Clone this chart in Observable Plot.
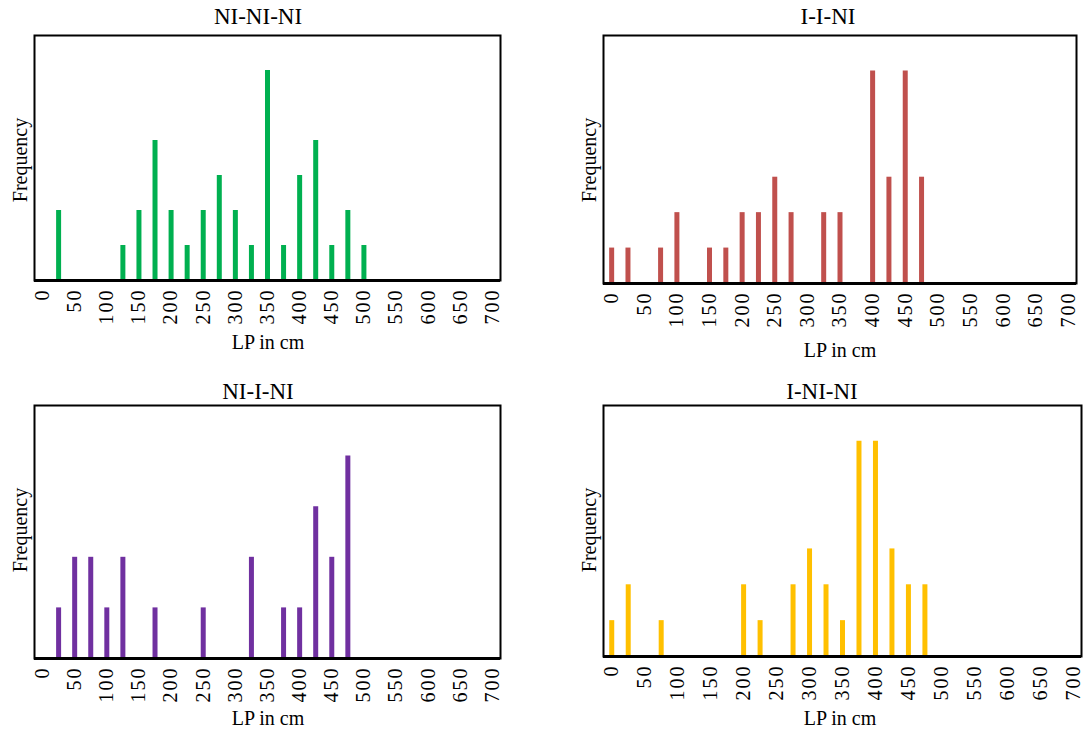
<!DOCTYPE html>
<html>
<head>
<meta charset="utf-8">
<script src="https://cdn.jsdelivr.net/npm/d3@7"></script>
<script src="https://cdn.jsdelivr.net/npm/@observablehq/plot@0.6"></script>
<style>
  html, body { margin: 0; padding: 0; background: #fff; }
  #chart { position: relative; width: 1087px; height: 732px; font-family: "Liberation Serif", "DejaVu Serif", "Times New Roman", serif; color: #000; }
  .title { position: absolute; font-size: 23px; transform: translate(-50%, -50%); white-space: nowrap; }
  .xlab { position: absolute; font-size: 20px; transform: translate(-50%, -50%); white-space: nowrap; }
  .ylab { position: absolute; font-size: 20px; transform: translate(-50%, -50%) rotate(-90deg); white-space: nowrap; }
  svg.panel text { font-size: 20px; letter-spacing: 2px; }
</style>
</head>
<body>
<div id="chart"></div>
<script>
// Tick labels on the x axis (LP in cm)
const xTicks = [0, 50, 100, 150, 200, 250, 300, 350, 400, 450, 500, 550, 600, 650, 700];

// NI-NI-NI
const niNiNiLP   = [25, 125, 150, 175, 200, 225, 250, 275, 300, 325, 350, 375, 400, 425, 450, 475, 500];
const niNiNiFreq = [2, 1, 2, 4, 2, 1, 2, 3, 2, 1, 6, 1, 3, 4, 1, 2, 1];

// I-I-NI
const iINiLP   = [0, 25, 75, 100, 150, 175, 200, 225, 250, 275, 325, 350, 400, 425, 450, 475];
const iINiFreq = [1, 1, 1, 2, 1, 1, 2, 2, 3, 2, 2, 2, 6, 3, 6, 3];

// NI-I-NI
const niINiLP   = [25, 50, 75, 100, 125, 175, 250, 325, 375, 400, 425, 450, 475];
const niINiFreq = [1, 2, 2, 1, 2, 1, 1, 2, 1, 1, 3, 2, 4];

// I-NI-NI
const iNiNiLP   = [0, 25, 75, 200, 225, 275, 300, 325, 350, 375, 400, 425, 450, 475];
const iNiNiFreq = [1, 2, 1, 2, 1, 2, 3, 2, 1, 6, 6, 3, 2, 2];

const FONT = "'Liberation Serif', 'DejaVu Serif', 'Times New Roman', serif";

const panels = [
  {title: "NI-NI-NI", lp: niNiNiLP, freq: niNiNiFreq, color: "#00B050", ymax: 7,
   left: 34, top: 35, right: 500, bottom: 280, titleX: 258, titleY: 17, xlabX: 268, xlabY: 342, ylabX: 20, ylabY: 160},
  {title: "I-I-NI", lp: iINiLP, freq: iINiFreq, color: "#C0504D", ymax: 7,
   left: 603, top: 35, right: 1076, bottom: 283, titleX: 828, titleY: 17, xlabX: 840, xlabY: 350, ylabX: 589, ylabY: 160},
  {title: "NI-I-NI", lp: niINiLP, freq: niINiFreq, color: "#7030A0", ymax: 5,
   left: 34, top: 405, right: 500, bottom: 658, titleX: 258, titleY: 392, xlabX: 268, xlabY: 718, ylabX: 20, ylabY: 530},
  {title: "I-NI-NI", lp: iNiNiLP, freq: iNiNiFreq, color: "#FFC000", ymax: 7,
   left: 603, top: 405, right: 1081, bottom: 656, titleX: 822, titleY: 392, xlabX: 840, xlabY: 718, ylabX: 589, ylabY: 530}
];

const chart = document.getElementById("chart");

for (const p of panels) {
  const data = p.lp.map((x, i) => ({lp: x, freq: p.freq[i]}));
  const ml = 10, mt = 5, mr = 5, mb = 60;
  const W = (p.right - p.left) + ml + mr;
  const H = (p.bottom - p.top) + mt + mb;
  const svg = Plot.plot({
    width: W,
    height: H,
    marginLeft: ml, marginRight: mr, marginTop: mt, marginBottom: mb,
    style: {fontFamily: FONT, fontSize: "20px", background: "transparent", color: "#000"},
    x: {type: "linear", domain: [-12.5, 712.5], label: null},
    y: {domain: [0, p.ymax], axis: null},
    marks: [
      Plot.ruleX(data, {x: "lp", y1: 0, y2: "freq", stroke: p.color, strokeWidth: 5}),
      Plot.frame({stroke: "#000", strokeWidth: 2}),
      Plot.ruleY([0], {stroke: "#000", strokeWidth: 3}),
      Plot.axisX(xTicks, {tickSize: 0, tickPadding: 8, tickRotate: -90, tickFormat: d => String(d), fontSize: 20, label: null})
    ]
  });
  svg.classList.add("panel");
  svg.style.position = "absolute";
  svg.style.left = (p.left - ml) + "px";
  svg.style.top = (p.top - mt) + "px";
  svg.style.overflow = "visible";
  chart.appendChild(svg);

  const t = document.createElement("div");
  t.className = "title"; t.textContent = p.title;
  t.style.left = p.titleX + "px"; t.style.top = p.titleY + "px";
  chart.appendChild(t);

  const xl = document.createElement("div");
  xl.className = "xlab"; xl.textContent = "LP in cm";
  xl.style.left = p.xlabX + "px"; xl.style.top = p.xlabY + "px";
  chart.appendChild(xl);

  const yl = document.createElement("div");
  yl.className = "ylab"; yl.textContent = "Frequency";
  yl.style.left = p.ylabX + "px"; yl.style.top = p.ylabY + "px";
  chart.appendChild(yl);
}
</script>
</body>
</html>
